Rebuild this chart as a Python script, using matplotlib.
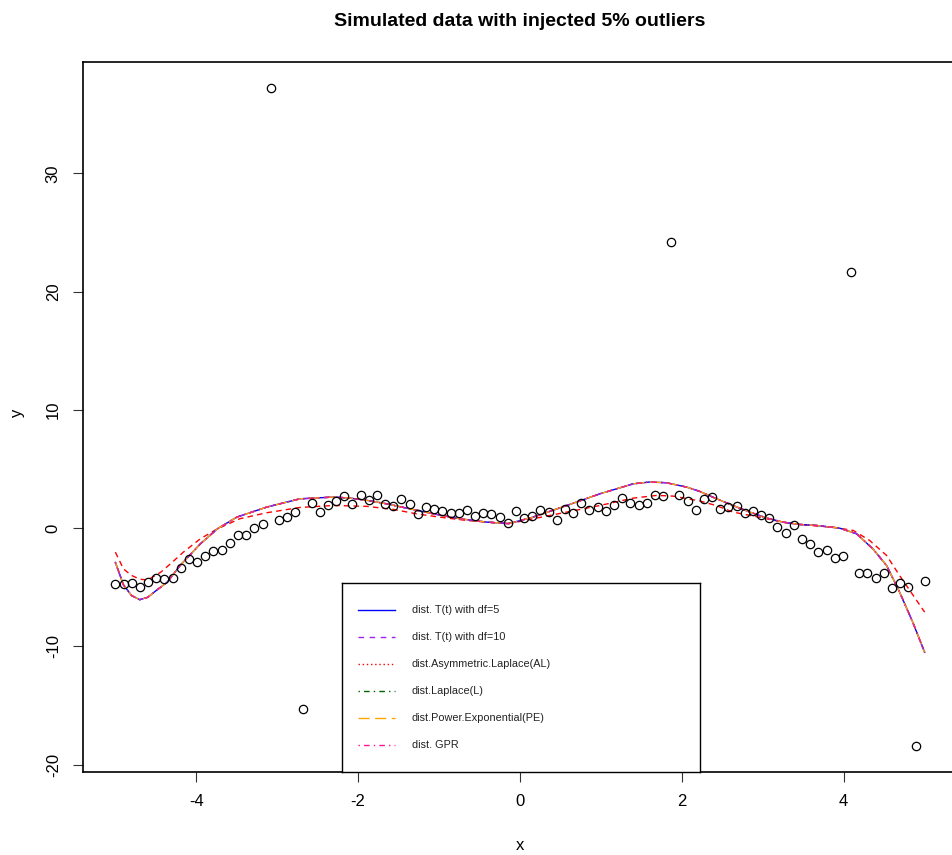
import numpy as np
import matplotlib
matplotlib.use("Agg")
import matplotlib.pyplot as plt

plt.rcParams['font.family'] = ['Liberation Sans', 'DejaVu Sans']

# simulated points, x = seq(-5, 5, length = 100)
x = np.linspace(-5, 5, 100)
y = [-4.75, -4.75, -4.66, -4.95, -4.58, -4.24, -4.29, -4.24, -3.39, -2.57,
     -2.88, -2.34, -1.95, -1.84, -1.22, -0.59, -0.59, 0.03, 0.34, 37.2,
     0.70, 0.96, 1.33, -15.3, 2.12, 1.33, 1.95, 2.29, 2.74, 2.01,
     2.82, 2.37, 2.82, 2.01, 1.89, 2.46, 2.01, 1.19, 1.75, 1.58,
     1.42, 1.30, 1.25, 1.50, 1.04, 1.30, 1.19, 0.96, 0.40, 1.42,
     0.85, 0.99, 1.50, 1.33, 0.70, 1.64, 1.30, 2.14, 1.50, 1.75,
     1.42, 1.95, 2.57, 2.14, 1.95, 2.09, 2.80, 2.71, 24.2, 2.80,
     2.29, 1.50, 2.46, 2.65, 1.58, 1.75, 1.89, 1.25, 1.42, 1.08,
     0.85, 0.08, -0.45, 0.28, -0.88, -1.30, -2.03, -1.86, -2.49, -2.37,
     21.7, -3.79, -3.76, -4.24, -3.76, -5.03, -4.66, -4.95, -18.4, -4.49]

# fitted curves (the T, L, PE and GPR fits lie on top of each other)
fit_x = [-5.0, -4.9, -4.8, -4.7, -4.6, -4.5, -4.36, -4.2, -3.95, -3.74,
         -3.5, -3.13, -2.72, -2.3, -2.1, -1.89, -1.65, -1.4, -1.07, -0.74,
         -0.41, -0.14, 0.16, 0.58, 0.99, 1.4, 1.6, 1.81, 2.06, 2.22,
         2.43, 2.63, 2.84, 3.05, 3.25, 3.46, 3.66, 3.95, 4.16, 4.36,
         4.53, 4.69, 4.85, 5.0]
fit_y = [-2.9, -4.8, -5.7, -6.05, -5.85, -5.3, -4.58, -3.16, -1.33, -0.06,
         0.93, 1.78, 2.48, 2.63, 2.54, 2.35, 2.06, 1.69, 1.21, 0.79,
         0.51, 0.38, 0.93, 1.92, 2.91, 3.75, 3.9, 3.84, 3.47, 3.11,
         2.48, 1.92, 1.36, 0.85, 0.51, 0.31, 0.23, 0.0, -0.48, -1.75,
         -3.16, -5.4, -7.9, -10.5]

al_x = [-5.0, -4.9, -4.8, -4.7, -4.6, -4.44, -4.3, -4.16, -3.95, -3.74,
        -3.46, -3.13, -2.72, -2.3, -1.89, -1.56, -1.28, -0.99, -0.66, -0.41,
        -0.16, -0.04, 0.16, 0.58, 0.99, 1.4, 1.69, 1.89, 2.22, 2.43,
        2.63, 2.84, 3.05, 3.29, 3.58, 3.87, 4.12, 4.32, 4.53, 4.69,
        4.9, 5.0]
al_y = [-2.03, -3.45, -4.0, -4.32, -4.38, -3.73, -2.9, -2.03, -0.9, -0.06,
        0.8, 1.3, 1.75, 1.92, 1.84, 1.58, 1.21, 0.93, 0.65, 0.51,
        0.4, 0.51, 0.79, 1.36, 1.92, 2.54, 2.77, 2.71, 2.3, 1.9,
        1.36, 1.08, 0.79, 0.45, 0.23, 0.08, -0.2, -1.04, -2.31, -4.0,
        -6.1, -7.1]

labels = ["dist. T(t) with df=5", "dist. T(t) with df=10",
          "dist.Asymmetric.Laplace(AL)", "dist.Laplace(L)",
          "dist.Power.Exponential(PE)", "dist. GPR"]
colors = ["#0000FF", "#A020F0", "#FF0000", "#006400", "#FFA500", "#FF1493"]
styles = ["-", (0, (4, 4)), (0, (1, 2)), (0, (1, 3, 4, 3)), (0, (8, 4)), (0, (1, 3, 4, 3))]

fig = plt.figure(figsize=(9.53, 8.55), dpi=100)
ax = fig.add_axes([83 / 953, 83 / 855, 874 / 953, 710 / 855])

ax.plot(x, y, 'o', mfc='none', mec='black', ms=6, mew=0.9, zorder=3)

ax.plot(al_x, al_y, color=colors[2], ls=(0, (4, 3)), lw=1.0)
for i in [0, 1, 3, 4, 5]:
    ax.plot(fit_x, fit_y, color=colors[i], ls=styles[i], lw=1.0)

rng = max(y) - min(y)
ax.set_xlim(-5.4, 5.4)
ax.set_ylim(min(y) - 0.04 * rng, max(y) + 0.04 * rng)
ax.set_xticks([-4, -2, 0, 2, 4])
ax.set_yticks([-20, -10, 0, 10, 20, 30])
ax.set_yticklabels(["-20", "-10", "0", "10", "20", "30"], rotation=90, va='center')
ax.set_xticklabels(["-4", "-2", "0", "2", "4"])
ax.tick_params(axis='both', length=7, width=0.8, labelsize=12, color='#333333')
ax.tick_params(axis='x', pad=9)
ax.tick_params(axis='y', pad=9)
for s in ax.spines.values():
    s.set_linewidth(1.2)

ax.set_xlabel("x", fontsize=12)
ax.set_ylabel("y", fontsize=12)
ax.xaxis.set_label_coords(0.5, -0.103)
ax.xaxis.label.set_va('center')
ax.yaxis.set_label_coords(-0.075, 0.506)
ax.yaxis.label.set_va('center')

fig.text(520 / 953, 1 - 22 / 855, "Simulated data with injected 5% outliers",
         ha='center', va='center', fontsize=14, fontweight='bold')

# legend box drawn like R's legend()
lg = fig.add_axes([342 / 953, 83 / 855, 358 / 953, 189 / 855])
lg.set_xlim(0, 358)
lg.set_ylim(189, 0)
lg.set_xticks([])
lg.set_yticks([])
for s in lg.spines.values():
    s.set_linewidth(1.0)
for k, lab in enumerate(labels):
    yy = 27 * (k + 1)
    lg.plot([16, 53], [yy, yy], color=colors[k], ls=styles[k], lw=1.0)
    lg.text(70, yy, lab, fontsize=7.8, va='center', ha='left', color='#222222')

fig.savefig("out.png", dpi=100)
